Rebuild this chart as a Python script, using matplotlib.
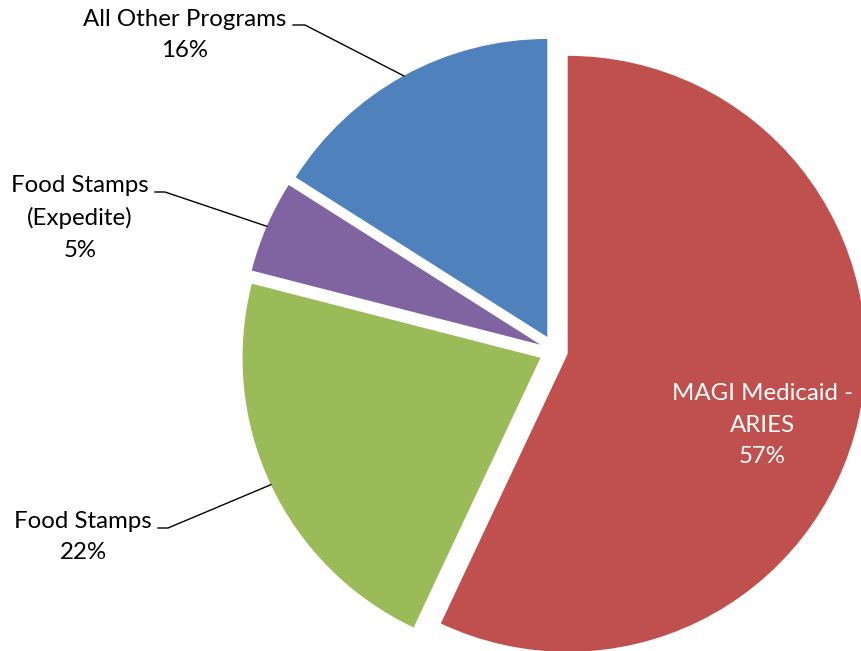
import matplotlib.pyplot as plt
import numpy as np

##########################################################################
# Data
#-------------------------------------------------------------------------
labels = ['MAGI Medicaid -\nARIES', 'Food Stamps', 'Food Stamps\n(Expedite)',
          'All Other Programs']
shares = [57, 22, 5, 16]
colors = ['#C0504D', '#9BBB59', '#8064A2', '#4F81BD']

##########################################################################
# Layout (pixels, y up)
#-------------------------------------------------------------------------
W, H   = 861, 651
cx, cy = 555, 300
rad    = 298
expl   = [13, 16, 16, 16]
fs     = 17.3
lsp    = 1.62

# text centre and leader stub (start x, end x, y) for the outside labels
txt_pos = {1: (83, 114), 2: (80, 433), 3: (185, 616)}
stub    = {1: (158, 168, 123), 2: (155, 165, 459), 3: (293, 305, 626)}

plt.rcParams['font.family'] = ['Lato', 'DejaVu Sans']

fig = plt.figure(figsize=(W / 100, H / 100), dpi=100)
ax = fig.add_axes([0, 0, 1, 1])

wedges, _ = ax.pie(shares, colors=colors, startangle=90, counterclock=False,
                   radius=rad, center=(cx, cy), explode=expl,
                   wedgeprops=dict(linewidth=0))

ax.set_xlim(0, W)
ax.set_ylim(0, H)
ax.set_aspect('equal')
ax.axis('off')

for i, w in enumerate(wedges):
    text = f'{labels[i]}\n{shares[i]}%'
    if i == 0:
        ax.text(762, 226, text, ha='center', va='center', color='white',
                fontsize=fs, linespacing=lsp)
        continue
    # leader line ends on the arc at the middle of the slice
    tm = np.deg2rad((w.theta1 + w.theta2) / 2)
    px = w.center[0] + rad * np.cos(tm)
    py = w.center[1] + rad * np.sin(tm)
    x0, x1, y0 = stub[i]
    ax.plot([x0, x1, px], [y0, y0, py], c='black', lw=1.0)
    tx, ty = txt_pos[i]
    ax.text(tx, ty, text, ha='center', va='center', color='black',
            fontsize=fs, linespacing=lsp)

fig.savefig('out.png', dpi=100)
